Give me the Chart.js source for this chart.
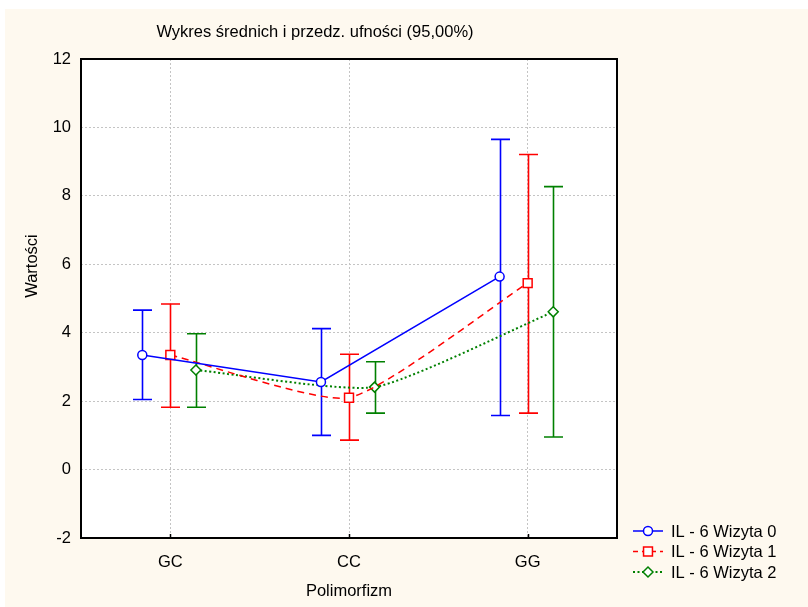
<!DOCTYPE html>
<html>
<head>
<meta charset="utf-8">
<script src="https://cdn.jsdelivr.net/npm/chart.js@4.4.0/dist/chart.umd.min.js"></script>
<style>
  html, body { margin: 0; padding: 0; background: #fff; }
  #wrap { width: 808px; height: 607px; }
</style>
</head>
<body>
<div id="wrap"><canvas id="meansChart" width="808" height="607"></canvas></div>
<script>
// dane: średnie i granice przedziałów ufności 95%
const categories = ['GC', 'CC', 'GG'];
const seriesNames = ['IL - 6 Wizyta 0', 'IL - 6 Wizyta 1', 'IL - 6 Wizyta 2'];

const means0 = [3.35, 2.56, 5.64];
const lower0 = [2.05, 1.00, 1.58];
const upper0 = [4.66, 4.12, 9.65];

const means1 = [3.35, 2.10, 5.45];
const lower1 = [1.82, 0.86, 1.65];
const upper1 = [4.84, 3.37, 9.21];

const means2 = [2.91, 2.41, 4.61];
const lower2 = [1.82, 1.65, 0.95];
const upper2 = [3.97, 3.15, 8.27];

const yTicks = [-2, 0, 2, 4, 6, 8, 10, 12];

const FONT = '"Liberation Sans", Arial, sans-serif';
const CREAM = '#fef9ef';

// przesunięcie serii wokół kategorii, żeby słupki błędów się nie nakładały
const dodge = [-0.157, 0, 0.143];

const styles = [
  { color: '#0000ff', point: 'circle', radius: 4.5, dash: [], legendDash: [], width: 1.5, tension: 0 },
  { color: '#ff0000', point: 'rect', radius: 6.3, dash: [7, 5], legendDash: [5, 4], width: 1.5, tension: 0.18 },
  { color: '#008000', point: 'rectRot', radius: 5, dash: [2, 2.5], legendDash: [2, 2.5], width: 2, tension: 0.18 }
];

const allMeans = [means0, means1, means2];
const allLower = [lower0, lower1, lower2];
const allUpper = [upper0, upper1, upper2];

const datasets = allMeans.map((m, s) => ({
  label: seriesNames[s],
  data: m.map((v, i) => ({ x: i + dodge[s], y: v })),
  lower: allLower[s],
  upper: allUpper[s],
  dodge: dodge[s],
  borderColor: styles[s].color,
  borderWidth: styles[s].width,
  borderDash: styles[s].dash,
  tension: styles[s].tension,
  pointStyle: styles[s].point,
  pointRadius: styles[s].radius,
  pointBackgroundColor: '#ffffff',
  pointBorderColor: styles[s].color,
  pointBorderWidth: 1.5,
  fill: false
}));

const backgroundPlugin = {
  id: 'background',
  beforeDraw(chart) {
    const { ctx, chartArea: a } = chart;
    ctx.save();
    ctx.fillStyle = '#ffffff';
    ctx.fillRect(0, 0, chart.width, chart.height);
    ctx.fillStyle = CREAM;
    ctx.fillRect(5, 9, chart.width - 5, chart.height - 9);
    ctx.fillStyle = '#ffffff';
    ctx.fillRect(a.left, a.top, a.right - a.left, a.bottom - a.top);
    ctx.restore();
  }
};

const errorBarsPlugin = {
  id: 'errorBars',
  beforeDatasetsDraw(chart) {
    const { ctx } = chart;
    const xs = chart.scales.x, ys = chart.scales.y;
    ctx.save();
    chart.data.datasets.forEach(ds => {
      ctx.strokeStyle = ds.borderColor;
      ctx.lineWidth = 1.6;
      ctx.setLineDash([]);
      ds.lower.forEach((lo, i) => {
        const x = Math.round(xs.getPixelForValue(i + ds.dodge)) + 0.5;
        const y1 = ys.getPixelForValue(lo);
        const y2 = ys.getPixelForValue(ds.upper[i]);
        ctx.beginPath();
        ctx.moveTo(x, y1); ctx.lineTo(x, y2);
        ctx.moveTo(x - 9.5, y1); ctx.lineTo(x + 9.5, y1);
        ctx.moveTo(x - 9.5, y2); ctx.lineTo(x + 9.5, y2);
        ctx.stroke();
      });
    });
    ctx.restore();
  }
};

function drawMarker(ctx, style, x, y) {
  ctx.save();
  ctx.setLineDash([]);
  ctx.fillStyle = '#ffffff';
  ctx.strokeStyle = style.color;
  ctx.lineWidth = 1.5;
  Chart.helpers.drawPoint(ctx, { pointStyle: style.point, radius: style.radius, rotation: 0, borderWidth: 1.5 }, x, y);
  ctx.restore();
}

const framePlugin = {
  id: 'frameAndText',
  afterDraw(chart) {
    const { ctx, chartArea: a } = chart;
    const xs = chart.scales.x;
    ctx.save();

    // ramka obszaru wykresu
    ctx.strokeStyle = '#000';
    ctx.lineWidth = 2;
    ctx.setLineDash([]);
    ctx.strokeRect(a.left, a.top, a.right - a.left, a.bottom - a.top);

    // kreski podziałki osi X
    ctx.lineWidth = 1.5;
    categories.forEach((c, i) => {
      const x = Math.round(xs.getPixelForValue(i)) + 0.5;
      ctx.beginPath();
      ctx.moveTo(x, a.bottom);
      ctx.lineTo(x, a.bottom - 4);
      ctx.stroke();
    });

    // tytuły
    ctx.fillStyle = '#000';
    ctx.font = '16.5px ' + FONT;
    ctx.textAlign = 'center';
    ctx.textBaseline = 'middle';
    ctx.fillText('Wykres średnich i przedz. ufności (95,00%)', 315, 32);
    ctx.fillText('Polimorfizm', (a.left + a.right) / 2, 591);

    ctx.save();
    ctx.translate(32, 266);
    ctx.rotate(-Math.PI / 2);
    ctx.fillText('Wartości', 0, 0);
    ctx.restore();

    // legenda
    ctx.textAlign = 'left';
    seriesNames.forEach((name, s) => {
      const st = styles[s];
      const y = 531 + s * 20.5;
      ctx.strokeStyle = st.color;
      ctx.lineWidth = st.width;
      ctx.setLineDash(st.legendDash);
      ctx.beginPath();
      ctx.moveTo(633, y); ctx.lineTo(663, y);
      ctx.stroke();
      drawMarker(ctx, st, 648, y);
      ctx.fillStyle = '#000';
      ctx.fillText(name, 671, y + 1);
    });

    ctx.restore();
  }
};

new Chart(document.getElementById('meansChart'), {
  type: 'line',
  data: { datasets },
  plugins: [backgroundPlugin, errorBarsPlugin, framePlugin],
  options: {
    responsive: false,
    animation: false,
    devicePixelRatio: 1,
    layout: { padding: { top: 59, right: 191, left: 0, bottom: 0 } },
    plugins: { legend: { display: false }, tooltip: { enabled: false }, title: { display: false } },
    scales: {
      x: {
        type: 'linear',
        min: -0.5,
        max: 2.5,
        afterBuildTicks: s => { s.ticks = categories.map((c, i) => ({ value: i })); },
        afterFit: s => { s.height = 69; },
        ticks: {
          callback: v => categories[v],
          color: '#000',
          font: { family: FONT, size: 16.5 },
          padding: 15,
          maxRotation: 0
        },
        grid: { color: '#c4c4c4', lineWidth: 1, drawTicks: false },
        border: { display: false, dash: [2, 2] }
      },
      y: {
        min: -2,
        max: 12,
        afterBuildTicks: s => { s.ticks = yTicks.map(v => ({ value: v })); },
        afterFit: s => { s.width = 81; },
        ticks: {
          color: '#000',
          font: { family: FONT, size: 16.5 },
          padding: 10
        },
        grid: { color: '#c4c4c4', lineWidth: 1, drawTicks: false },
        border: { display: false, dash: [2, 2] }
      }
    }
  }
});
</script>
</body>
</html>
